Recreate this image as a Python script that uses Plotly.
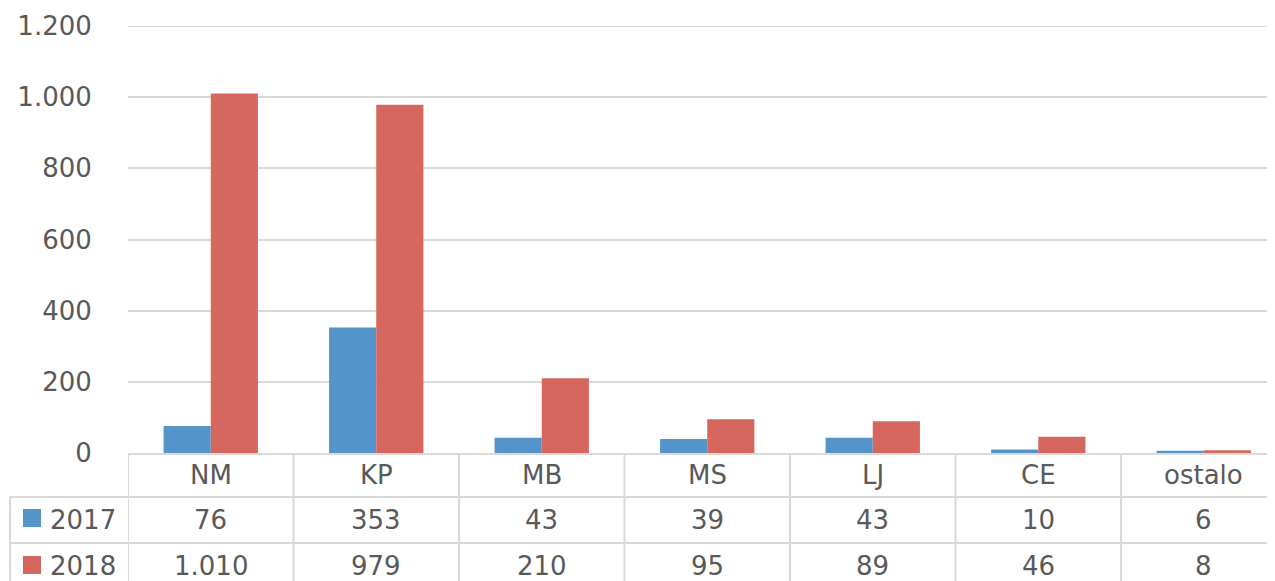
import plotly.graph_objects as go

categories = ["NM", "KP", "MB", "MS", "LJ", "CE", "ostalo"]
series_names = ["2017", "2018"]
values_2017 = [76, 353, 43, 39, 43, 10, 6]
values_2018 = [1010, 979, 210, 95, 89, 46, 8]
colors = ["#5394CA", "#D5675F"]

def fmt(v):
    return f"{v:,}".replace(",", ".")

# page body has an 8px default margin; compensate so screen coordinates match
O = 8
SW, SH = 1275, 581
W, H = SW - O, SH - O
L_s, T_s, plot_bottom_screen = 128, 26, 453   # screen positions
L, T = L_s - O, T_s - O
B = H - (plot_bottom_screen - O)
plot_h = H - T - B
plot_w = W - L
col_px = 165.5

def py(Y):  # Y in screen pixels
    return (plot_bottom_screen - Y) / plot_h

def px(X):  # X in screen pixels
    return (X - L_s) / plot_w

font_fam = "DejaVu Sans"
txt_col = "#595959"
grid_col = "#D9D9D9"
FS = 26

fig = go.Figure()
idx = list(range(len(categories)))
for name, vals, c in zip(series_names, [values_2017, values_2018], colors):
    fig.add_trace(go.Bar(x=idx, y=vals, name=name, marker=dict(color=c, line=dict(width=0))))

x_max = plot_w / col_px - 0.5

shapes = []
for i in range(len(categories)):
    shapes.append(dict(type="line", xref="x", yref="paper", x0=i - 0.5, x1=i - 0.5,
                       y0=0, y1=py(SH + 5), line=dict(color=grid_col, width=2)))
shapes.append(dict(type="line", xref="paper", yref="paper", x0=px(10), x1=px(10),
                   y0=py(497), y1=py(SH + 5), line=dict(color=grid_col, width=2)))
for Y in [497, 543]:
    shapes.append(dict(type="line", xref="paper", yref="paper", x0=px(10), x1=1,
                       y0=py(Y), y1=py(Y), line=dict(color=grid_col, width=2)))
for Yc, c in zip([518, 565], colors):
    shapes.append(dict(type="rect", xref="paper", yref="paper", x0=px(23), x1=px(41),
                       y0=py(Yc + 9), y1=py(Yc - 9), fillcolor=c, line=dict(width=0)))
# top gridline at 1200
shapes.append(dict(type="line", xref="paper", yref="y", x0=0, x1=1, y0=1200, y1=1200,
                   line=dict(color=grid_col, width=2), layer="below"))

def tfont():
    return dict(size=FS, color=txt_col, family=font_fam)

ann = []
for i, cat in enumerate(categories):
    ann.append(dict(x=i, y=py(475), xref="x", yref="paper", text=cat, showarrow=False,
                    yanchor="middle", font=tfont()))
    ann.append(dict(x=i, y=py(520), xref="x", yref="paper", text=fmt(values_2017[i]), showarrow=False,
                    yanchor="middle", font=tfont()))
    ann.append(dict(x=i, y=py(566), xref="x", yref="paper", text=fmt(values_2018[i]), showarrow=False,
                    yanchor="middle", font=tfont()))
for name, Yc in zip(series_names, [520, 566]):
    ann.append(dict(x=px(48), y=py(Yc), xref="paper", yref="paper", text=name, showarrow=False,
                    xanchor="left", yanchor="middle", font=tfont()))

fig.update_layout(
    width=W, height=H,
    margin=dict(l=L, r=0, t=T, b=B, pad=0),
    paper_bgcolor="white", plot_bgcolor="white",
    separators=",.",
    barmode="group", bargap=0.43, bargroupgap=0,
    showlegend=False,
    shapes=shapes, annotations=ann,
    font=dict(family=font_fam, color=txt_col, size=FS),
    xaxis=dict(range=[-0.5, x_max], showticklabels=False, showgrid=False, zeroline=False,
               showline=True, linecolor=grid_col, linewidth=2, fixedrange=True),
    yaxis=dict(range=[0, 1200], tickvals=[0, 200, 400, 600, 800, 1000, 1200], tickformat=",d",
               showgrid=True, gridcolor=grid_col, gridwidth=2, zeroline=False, showline=False,
               ticks="outside", ticklen=30, tickcolor="rgba(0,0,0,0)",
               tickfont=tfont()),
)

fig.write_html("out.html")
